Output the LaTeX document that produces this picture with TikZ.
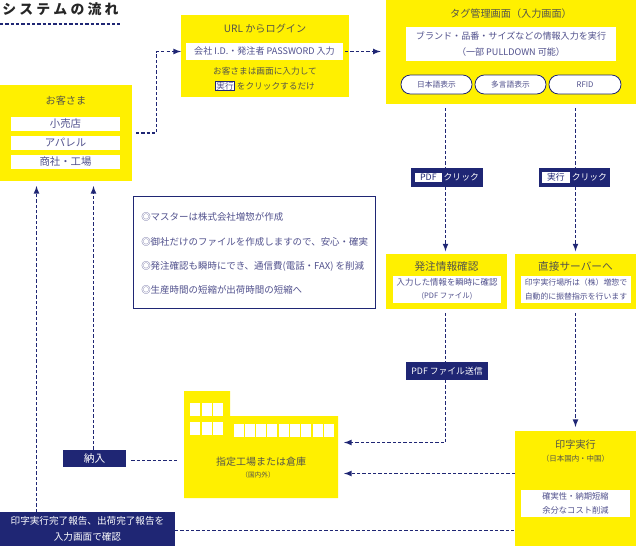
\documentclass[tikz,border=0pt]{standalone}
\usepackage{fontspec}
\setmainfont{Noto Sans CJK JP}
\usetikzlibrary{arrows}
\definecolor{navy}{HTML}{1F2674}
\definecolor{signyellow}{HTML}{FFF000}
\definecolor{rowtext}{HTML}{50508C}
\definecolor{headtext}{HTML}{55554A}
\newcommand{\badge}[1]{{\setlength{\fboxsep}{0.4pt}\setlength{\fboxrule}{0.5pt}\fcolorbox{navy}{white}{\textcolor{rowtext}{#1}}}}
\newcommand{\tagwhite}[1]{{\setlength{\fboxsep}{0.8pt}\setlength{\fboxrule}{0pt}\colorbox{white}{\textcolor{navy}{\hspace{3pt}#1\hspace{3pt}}}}}
\tikzset{
  box/.style 2 args={minimum width=#1*0.75pt, minimum height=#2*0.75pt, inner sep=0pt, outer sep=0pt},
  ybox/.style={fill=signyellow},
  wbox/.style={fill=white, text=rowtext, font=\fontsize{6.8}{11.5}\selectfont, align=center},
  nbox/.style={fill=navy, text=white, font=\fontsize{6.6}{12}\selectfont, align=center},
  pill/.style={draw=navy, line width=0.6pt, fill=white, rounded corners=7pt, text=rowtext, font=\fontsize{5.8}{7}\selectfont},
  head/.style={text=headtext, font=\fontsize{7.6}{9}\selectfont, inner sep=0pt},
  note/.style={text=headtext, font=\fontsize{6.5}{11}\selectfont, inner sep=0pt, align=center},
  small/.style={text=headtext, font=\fontsize{5}{7}\selectfont, inner sep=0pt},
  info/.style={text=rowtext, font=\fontsize{7.1}{9}\selectfont, inner sep=0pt, anchor=west},
  flow/.style={draw=navy, line width=0.95pt, dash pattern=on 2.4pt off 1.6pt},
  flowto/.style={flow, -latex},
  pane/.style={fill=white},
}
\begin{document}
\begin{tikzpicture}[x=0.75pt, y=-0.75pt]
\useasboundingbox (0,0) rectangle (636,546);
% title
\node[font=\bfseries\fontsize{10.4}{12}\selectfont, text=black!85, inner sep=0pt, anchor=west] (title) at (2,9) {シ\hspace{2.4pt}ス\hspace{2.4pt}テ\hspace{2.4pt}ム\hspace{2.4pt}の\hspace{2.4pt}流\hspace{2.4pt}れ};
\coordinate (ruleL) at (0,24);
\coordinate (ruleR) at (120,24);
\draw[flow] (ruleL) -- (ruleR);
% customer
\node[ybox, box={132}{96}] (cust) at (66,133) {};
\node[head] (custhead) at (66,101) {お客さま};
\node[wbox, box={109}{14}, font=\fontsize{7.8}{9}\selectfont] (retail) at (65.5,124) {小売店};
\node[wbox, box={109}{14}, font=\fontsize{7.8}{9}\selectfont] (apparel) at (65.5,142.5) {アパレル};
\node[wbox, box={109}{14}, font=\fontsize{7.8}{9}\selectfont] (trading) at (65.5,161.5) {商社・工場};
% login
\node[ybox, box={168}{82}] (url) at (265,56) {};
\node[head] (urlhead) at (265,29) {URL からログイン};
\node[wbox, box={157}{17}] (urlrow) at (264.5,51.5) {会社 I.D.・発注者 PASSWORD 入力};
\node[note] (urlnote) at (265,79) {お客さまは画面に入力して\\\badge{実行} をクリックするだけ};
% tag screen
\node[ybox, box={250}{104}] (tag) at (511,52) {};
\node[head] (taghead) at (511,14) {タグ管理画面（入力画面）};
\node[wbox, box={210}{34}] (tagrow) at (511,44) {ブランド・品番・サイズなどの情報入力を実行\\（一部 PULLDOWN 可能）};
\node[pill, box={71}{19}] (jp) at (436.5,84.5) {日本語表示};
\node[pill, box={71}{19}] (multi) at (510.5,84.5) {多言語表示};
\node[pill, box={72}{19}] (rfid) at (585,84.5) {RFID};
% click labels
\node[nbox, box={72}{19}] (pdfclick) at (447,177.5) {\tagwhite{PDF} クリック};
\node[nbox, box={71}{19}] (runclick) at (574.5,177.5) {\tagwhite{実行} クリック};
% master notes
\node[draw=navy, line width=0.6pt, box={242}{112}] (infobox) at (254,252) {};
\node[info] (infoa) at (141,217) {◎マスターは株式会社増惣が作成};
\node[info] (infob) at (141,242) {◎御社だけのファイルを作成しますので、安心・確実};
\node[info] (infoc) at (141,266) {◎発注確認も瞬時にでき、通信費(電話・FAX) を削減};
\node[info] (infod) at (141,290) {◎生産時間の短縮が出荷時間の短縮へ};
% order check and direct server
\node[ybox, box={121}{55}] (check) at (446.5,281.5) {};
\node[head, font=\fontsize{8}{9}\selectfont] (checkhead) at (446.5,266) {発注情報確認};
\node[wbox, box={108}{27}, font=\fontsize{6.3}{10}\selectfont] (checkrow) at (447,289.5) {入力した情報を瞬時に確認\\{\fontsize{5.6}{7}\selectfont (PDF ファイル)}};
\node[ybox, box={121}{55}] (server) at (575.5,281.5) {};
\node[head, font=\fontsize{8}{9}\selectfont] (serverhead) at (575.5,266) {直接サーバーへ};
\node[wbox, box={110}{27}, font=\fontsize{5.9}{10}\selectfont] (serverrow) at (576,289.5) {印字実行場所は（株）増惣で\\自動的に振替指示を行います};
\node[nbox, box={82}{18}] (pdfsend) at (447,371) {PDF ファイル送信};
% print
\node[ybox, box={121}{115}] (print) at (575.5,488.5) {};
\node[head] (printhead) at (575.5,445) {印字実行};
\node[small, font=\fontsize{5.6}{7}\selectfont] (printsub) at (575.5,458.5) {（日本国内・中国）};
\node[wbox, box={109}{27}, font=\fontsize{6.2}{10.2}\selectfont] (printrow) at (575.5,503.5) {確実性・納期短縮\\余分なコスト削減};
% factory
\fill[signyellow] (184,391) -- (230,391) -- (230,416) -- (338,416) -- (338,498) -- (184,498) -- cycle;
\foreach \wx in {190,201.5,213} {
  \fill[pane] (\wx,403) rectangle ++(10,12.5);
  \fill[pane] (\wx,422) rectangle ++(10,12.5);
}
\foreach \wx in {0,...,8} {
  \fill[pane] ({233.5+\wx*11.3},424) rectangle ++(10,13);
}
\node[head, font=\fontsize{7.5}{9}\selectfont] (factory) at (261,462) {指定工場または倉庫};
\node[small] (factorysub) at (258,475) {（国内外）};
% delivery and report
\node[nbox, box={63}{17}, font=\fontsize{8}{9}\selectfont] (deliver) at (94.5,458) {納入};
\node[nbox, box={175}{34}, font=\fontsize{7.2}{12.2}\selectfont] (report) at (87.5,529) {印字実行完了報告、出荷完了報告を\\入力画面で確認};
% flows
\coordinate (bendlogin) at (156.5,51.5);
\coordinate (bendsend) at (445.5,442.5);
\coordinate (pdfx) at (445.5,0);
\coordinate (runx) at (575.5,0);
\coordinate (factoryin) at (344,442.5);
\coordinate (factoryprint) at (344,473.5);
\coordinate (factorydeliver) at (179,460.5);
\coordinate (reporty) at (0,530.5);
\coordinate (custup) at (36.5,186);
\coordinate (deliverup) at (93.5,186);
\draw[flowto] ([xshift=3pt]cust.east) -| (bendlogin) -- (url.west |- bendlogin);
\draw[flowto, shorten >=4pt] ([xshift=1.5pt]urlrow.east) -- (tag.west |- urlrow);
\draw[flow, shorten <=3pt] (tag.south -| pdfx) -- (pdfclick.north -| pdfx);
\draw[flow, shorten <=3pt] (tag.south -| runx) -- (runclick.north -| runx);
\draw[flowto, shorten >=2pt] (pdfclick.south -| pdfx) -- (check.north -| pdfx);
\draw[flowto, shorten >=2pt] (runclick.south -| runx) -- (server.north -| runx);
\draw[flow, shorten <=3pt] (check.south -| pdfx) -- (pdfsend.north -| pdfx);
\draw[flowto] (pdfsend.south -| pdfx) -- (bendsend) -- (factoryin);
\draw[flowto, shorten <=3pt, shorten >=3pt] (server.south -| runx) -- (print.north -| runx);
\draw[flowto] (print.west |- factoryprint) -- (factoryprint);
\draw[flow] (report.east |- reporty) -- (print.west |- reporty);
\draw[flow, shorten <=4pt] (deliver.east |- factorydeliver) -- (factorydeliver);
\draw[flowto] (report.north -| custup) -- (custup);
\draw[flowto] (deliver.north -| deliverup) -- (deliverup);
\end{tikzpicture}
\end{document}
